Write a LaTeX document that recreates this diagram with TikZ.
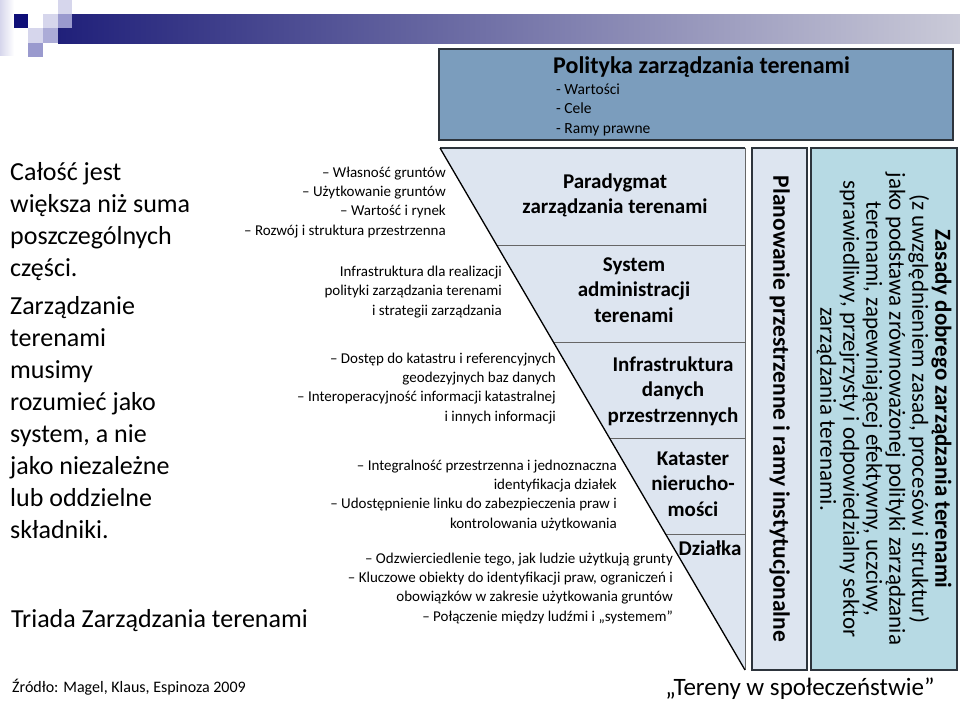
\documentclass[tikz,border=0pt]{standalone}
\usepackage{fontspec}
\setmainfont{Carlito}
\usetikzlibrary{positioning,calc}
\definecolor{BarNavy}{RGB}{32,32,122}
\definecolor{BarGray}{RGB}{202,202,216}
\definecolor{SqNavy}{RGB}{14,14,120}
\definecolor{SqLight}{RGB}{214,214,236}
\definecolor{SqMid}{RGB}{154,154,206}
\definecolor{PolBlue}{RGB}{123,157,189}
\definecolor{RowFill}{RGB}{221,229,240}
\definecolor{RuleFill}{RGB}{183,218,228}
\definecolor{EdgeDark}{RGB}{45,52,60}

\begin{document}
\begin{tikzpicture}[x=1pt,y=-1pt,
   every node/.style={inner sep=0pt},
   big/.style={font=\fontsize{26}{32}\selectfont,align=left},
   note/.style={font=\fontsize{15}{19.3}\selectfont,align=right,anchor=base east},
   tier/.style={font=\bfseries\fontsize{21}{25.5}\selectfont,align=center,anchor=base},
   col/.style={draw=EdgeDark,line width=1.2pt,rotate=-90,minimum width=522pt},
   sep/.style={draw=black!60,line width=0.8pt}]
   \useasboundingbox (0,0) rectangle (960,704);
   % header
   \shade[left color=SqLight,right color=white] (0,0) rectangle (14,55);
   \shade[left color=BarNavy,right color=BarGray] (58,14) rectangle (960,43);
   \fill[SqLight] (58,0) rectangle (72,14);
   \fill[SqLight] (43,14) rectangle (58,28);
   \fill[SqMid] (58,14) rectangle (72,28);
   \fill[SqLight] (28,28) rectangle (43,43);
   \fill[SqMid!70!SqLight] (43,28) rectangle (58,43);
   \fill[SqMid] (28,43) rectangle (43,57);
   \fill[SqNavy] (14,14) rectangle (28,28);

   \node[draw=EdgeDark,line width=1.2pt,fill=PolBlue,minimum width=514pt,minimum height=91pt] (pol) at (696,94.5) {};
   \node[anchor=base west,font=\bfseries\fontsize{24}{28}\selectfont] (poltitle) at (553,73) {Polityka zarządzania terenami};
   \node[anchor=base west,align=left,font=\fontsize{15.5}{19.3}\selectfont] (politems) at (556,133) {- Wartości\\- Cele\\- Ramy prawne};

   % triangle
   \coordinate (tl) at (440,148);
   \coordinate (tr) at (745,148);
   \coordinate (ap) at (745,670);
   \fill[RowFill] (tl) -- (tr) -- (ap) -- cycle;
   \foreach \t in {0.186,0.372,0.556,0.741}
      \draw[sep] ($(tl)!\t!(ap)$) -- ($(tr)!\t!(ap)$);
   \draw[sep] (tr) -- (ap);
   \draw[EdgeDark,line width=1.2pt] (tl) -- (tr);
   \draw[black,line width=1.3pt] (tl) -- (ap);

   \node[tier] (paradygmat) at (615,213.5) {Paradygmat\\zarządzania terenami};
   \node[tier] (sat) at (634,322) {System\\administracji\\terenami};
   \node[tier] (idp) at (673,422) {Infrastruktura\\danych\\przestrzennych};
   \node[tier] (kataster) at (693,516) {Kataster\\nierucho-\\mości};
   \node[tier] (dzialka) at (710,555) {Działka};

   \node[col,fill=RowFill,minimum height=55pt,font=\bfseries\fontsize{23.5}{23}\selectfont] (plan) at (779.5,409) {Planowanie przestrzenne i ramy instytucjonalne};
   \node[col,fill=RuleFill,minimum height=146pt,align=center,font=\fontsize{23}{23}\selectfont] (zasady) at (884,409) {\textbf{Zasady dobrego zarządzania terenami}\\(z uwzględnieniem zasad, procesów i struktur)\\jako podstawa zrównoważonej polityki zarządzania\\terenami, zapewniającej efektywny, uczciwy,\\sprawiedliwy, przejrzysty i odpowiedzialny sektor\\zarządzania terenami.};

   \node[note] (grunty) at (446,235) {– Własność gruntów\\– Użytkowanie gruntów\\– Wartość i rynek\\– Rozwój i struktura przestrzenna};
   \node[note] (realizacja) at (502,315) {Infrastruktura dla realizacji\\polityki zarządzania terenami\\i strategii zarządzania};
   \node[note] (dostep) at (556,421) {– Dostęp do katastru i referencyjnych\\geodezyjnych baz danych\\– Interoperacyjność informacji katastralnej\\i innych informacji};
   \node[note] (integral) at (617,528) {– Integralność przestrzenna i jednoznaczna\\identyfikacja działek\\– Udostępnienie linku do zabezpieczenia praw i\\kontrolowania użytkowania};
   \node[note] (ludzie) at (673,621) {– Odzwierciedlenie tego, jak ludzie użytkują grunty\\– Kluczowe obiekty do identyfikacji praw, ograniczeń i\\obowiązków w zakresie użytkowania gruntów\\– Połączenie między ludźmi i „systemem”};

   \node[big,anchor=base west] (calosc) at (10,276) {Całość jest\\większa niż suma\\poszczególnych\\części.};
   \node[big,anchor=base west] (system) at (10,538) {Zarządzanie\\terenami\\musimy\\rozumieć jako\\system, a nie\\jako niezależne\\lub oddzielne\\składniki.};
   \node[anchor=base west,font=\fontsize{26}{32}\selectfont] (triada) at (11,627) {Triada Zarządzania terenami};
   \node[anchor=base west,font=\fontsize{16}{19}\selectfont] (zrodlo) at (12,692) {Źródło: Magel, Klaus, Espinoza 2009};
   \node[anchor=base,font=\fontsize{25}{30}\selectfont] (tereny) at (800,695) {„Tereny w społeczeństwie”};
\end{tikzpicture}
\end{document}
